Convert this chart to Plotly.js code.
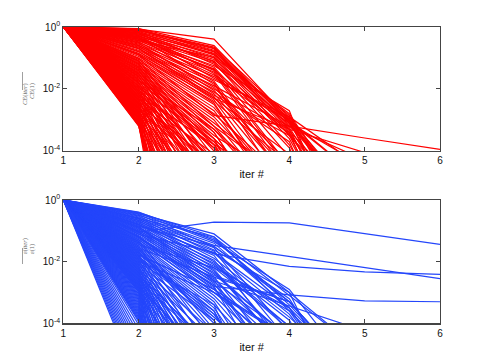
<!DOCTYPE html>
<html>
<head>
<meta charset="utf-8">
<script src="https://cdn.plot.ly/plotly-3.0.1.min.js"></script>
<style>
  html, body { margin: 0; padding: 0; background: #fff; }
  #myPlot { width: 485px; height: 364px; }
</style>
</head>
<body>
<div id="myPlot"></div>
<script>
// iteration numbers on the x axis
const iters = [1, 2, 3, 4, 5, 6];

const ceRuns = [
  // runs that last past iter 3
  [0,-.07,-.39,-3.0,-6], [0,-.05,-.6,-3.1,-7], [0,-.1,-.65,-2.9,-6], [0,-.12,-.7,-3.2,-5.5],
  [0,-.08,-.75,-3.3,-8], [0,-.15,-.8,-3.0,-5], [0,-.2,-.85,-3.1,-6], [0,-.18,-.9,-2.85,-7],
  [0,-.25,-.95,-3.35,-6], [0,-.22,-1.0,-3.5,-6], [0,-.3,-1.05,-3.05,-5], [0,-.28,-1.1,-3.6,-8],
  [0,-.35,-1.15,-3.8,-8], [0,-.13,-1.2,-3.4,-9], [0,-.4,-1.25,-2.7,-9], [0,-.33,-1.3,-3.9,-9],
  [0,-.45,-1.35,-4.2], [0,-.38,-1.4,-4.5], [0,-.5,-1.45,-4.6], [0,-.17,-1.5,-4.8],
  [0,-.42,-1.55,-3.1,-4.5], [0,-.55,-1.6,-3.3,-8], [0,-.27,-1.65,-3.0,-8], [0,-.6,-1.7,-2.9,-4.6],
  [0,-.48,-1.75,-5], [0,-.65,-1.8,-5.5], [0,-.32,-1.85,-5], [0,-.7,-1.9,-3.2,-4.3],
  [0,-.58,-1.95,-4.4], [0,-.75,-2.0,-3.4,-7], [0,-.52,-2.05,-4.7], [0,-.8,-2.1,-3.7,-9],
  [0,-.62,-2.15,-4.9], [0,-.85,-2.2,-3.5,-8], [0,-.68,-2.25,-5.2], [0,-.9,-2.3,-4.1],
  [0,-.78,-2.35,-5.6], [0,-.95,-2.4,-4.4], [0,-.88,-2.45,-6], [0,-.1,-.68,-3.05,-6],
  [0,-.06,-.78,-2.95,-5.8], [0,-.09,-.88,-3.25,-7], [0,-.23,-1.12,-3.15,-6], [0,-.36,-1.38,-3.45,-7],
  [0,-.44,-.98,-2.8,-6.5], [0,-.9,-2.85,-3.2,-3.58,-3.95], [0,-.7,-2.3,-3.3,-4.05],
  // runs that end between iter 2.5 and 4
  [0,-1.0,-2.5,-6], [0,-1.02,-3.2,-5], [0,-1.05,-2.6,-5.5], [0,-1.08,-4.2], [0,-1.1,-2.7,-6],
  [0,-1.12,-3.4,-7], [0,-1.15,-2.8,-5], [0,-1.18,-4.5], [0,-1.2,-2.9,-5.5], [0,-1.22,-3.6,-6],
  [0,-1.25,-3.0,-6], [0,-1.28,-4.8], [0,-1.3,-3.1,-5], [0,-1.32,-3.8,-7], [0,-1.35,-3.2,-6],
  [0,-1.38,-5.0], [0,-1.4,-3.3,-5.5], [0,-1.42,-4.0], [0,-1.45,-3.4,-7], [0,-1.48,-5.3],
  [0,-1.5,-3.5,-5], [0,-1.52,-4.3], [0,-1.55,-3.6,-6], [0,-1.58,-5.6], [0,-1.6,-3.7,-6],
  [0,-1.62,-4.6], [0,-1.65,-3.8,-5], [0,-1.68,-6.0], [0,-1.7,-3.9,-7], [0,-1.72,-4.9],
  [0,-1.75,-3.3,-6], [0,-1.78,-6.4], [0,-1.8,-3.6,-8], [0,-1.82,-5.1], [0,-1.85,-3.9,-6],
  [0,-1.88,-6.8], [0,-1.9,-4.4], [0,-1.92,-5.4], [0,-1.95,-3.7,-7], [0,-1.98,-7.2],
  // runs that end soon after iter 2
  [0,-2.0,-5.5], [0,-2.03,-4.3], [0,-2.05,-7.5], [0,-2.08,-3.9,-6], [0,-2.1,-6], [0,-2.13,-4.6],
  [0,-2.15,-8], [0,-2.18,-5], [0,-2.2,-3.8,-7], [0,-2.23,-6.5], [0,-2.25,-4.7], [0,-2.28,-9],
  [0,-2.3,-5.2], [0,-2.33,-4.1], [0,-2.35,-7], [0,-2.38,-4.9], [0,-2.4,-10], [0,-2.43,-6],
  [0,-2.45,-5.4], [0,-2.48,-8], [0,-2.5,-4.4], [0,-2.53,-11], [0,-2.55,-5.5], [0,-2.58,-7],
  [0,-2.6,-6], [0,-2.63,-12], [0,-2.65,-4.8], [0,-2.68,-8], [0,-2.7,-6.5], [0,-2.73,-13],
  [0,-2.75,-5.8], [0,-2.78,-9], [0,-2.8,-7], [0,-2.83,-14], [0,-2.85,-6.5], [0,-2.88,-10],
  [0,-2.9,-8], [0,-2.93,-15], [0,-2.95,-7], [0,-2.98,-12], [0,-3.0,-9], [0,-3.03,-16],
  [0,-3.05,-8], [0,-3.08,-13], [0,-3.1,-11], [0,-3.13,-17], [0,-3.15,-10], [0,-3.18,-14],
  [0,-3.2,-12]
];

// eps(iter)/eps(1), same reading
const epsRuns = [
  // long runs
  [0,-1.04,-.72,-.74,-1.09,-1.44], [0,-.6,-1.47,-1.83,-2.19,-2.55], [0,-.8,-1.75,-2.15,-2.33,-2.41],
  [0,-1.2,-2.8,-3.08,-3.27,-3.3], [0,-.85,-2.63,-3.44,-4.25],
  // runs that last past iter 3
  [0,-.39,-1.3,-3.3,-6], [0,-.41,-1.19,-3.6,-7], [0,-.43,-1.35,-2.9,-6], [0,-.45,-1.1,-3.0,-5],
  [0,-.47,-1.52,-3.2,-7], [0,-.5,-1.25,-3.4,-6], [0,-.52,-1.62,-3.0,-8], [0,-.55,-1.4,-3.5,-6],
  [0,-.58,-1.73,-3.7,-7], [0,-.6,-1.2,-3.1,-5], [0,-.62,-1.89,-3.8,-6], [0,-.65,-1.55,-4.3],
  [0,-.67,-2.0,-3.9,-8], [0,-.7,-1.65,-4.6], [0,-.72,-2.1,-4.2], [0,-.75,-1.8,-5],
  [0,-.78,-2.2,-3.5,-7], [0,-.8,-1.95,-4.8], [0,-.82,-2.3,-5], [0,-.85,-1.5,-3.3,-6],
  [0,-.88,-2.4,-4.5], [0,-.9,-2.05,-4.1], [0,-.92,-2.5,-5.5], [0,-.95,-2.15,-3.6,-6],
  [0,-.97,-2.6,-6], [0,-1.0,-2.25,-5], [0,-1.02,-2.7,-6], [0,-1.05,-2.35,-4.5],
  [0,-1.08,-2.8,-7], [0,-1.1,-2.45,-3.3,-6], [0,-1.12,-1.7,-3.5,-7], [0,-1.15,-2.55,-4.8],
  [0,-1.18,-2.9,-5.2], [0,-1.2,-2.65,-4.4], [0,-1.22,-3.0,-4.5],
  // runs that end between iter 2.5 and 4
  [0,-1.25,-2.75,-5], [0,-1.28,-3.1,-5.5], [0,-1.3,-2.85,-6], [0,-1.33,-4.2], [0,-1.35,-3.0,-5],
  [0,-1.38,-3.2,-6], [0,-1.4,-4.6], [0,-1.43,-3.3,-7], [0,-1.45,-2.2,-4.1], [0,-1.48,-3.4,-6],
  [0,-1.5,-5.0], [0,-1.53,-3.5,-7], [0,-1.55,-2.5,-3.3,-6], [0,-1.58,-3.6,-8], [0,-1.6,-4.3],
  [0,-1.63,-3.7,-7], [0,-1.65,-5.4], [0,-1.68,-3.8,-6], [0,-1.7,-4.0], [0,-1.73,-3.9,-8],
  [0,-1.75,-5.8], [0,-1.78,-2.9,-4.5], [0,-1.8,-4.5], [0,-1.83,-6.2], [0,-1.85,-3.6,-8],
  [0,-1.88,-4.8], [0,-1.9,-3.7,-7], [0,-1.93,-6.6], [0,-1.95,-3.8,-6], [0,-1.98,-5.1],
  [0,-2.0,-3.0,-4.4], [0,-2.03,-7], [0,-2.05,-3.4,-9], [0,-2.08,-5.4], [0,-2.1,-3.9,-8],
  [0,-2.13,-7.5], [0,-2.15,-4.3], [0,-2.18,-5.7], [0,-2.2,-8], [0,-2.23,-4.6], [0,-2.25,-6],
  [0,-2.28,-8.5],
  // runs that end soon after iter 2
  [0,-2.3,-5], [0,-2.33,-9], [0,-2.35,-6.3], [0,-2.38,-5.5], [0,-2.4,-9.5], [0,-2.43,-6.6],
  [0,-2.45,-4.8], [0,-2.48,-10], [0,-2.5,-5.8], [0,-2.53,-7], [0,-2.55,-11], [0,-2.58,-6.2],
  [0,-2.6,-4.9], [0,-2.63,-12], [0,-2.65,-7.4], [0,-2.68,-5.6], [0,-2.7,-13], [0,-2.73,-8],
  [0,-2.75,-6], [0,-2.78,-14], [0,-2.8,-8.5], [0,-2.83,-5.3], [0,-2.85,-15], [0,-2.88,-9],
  [0,-2.9,-6.2], [0,-2.93,-16], [0,-2.95,-9.5], [0,-2.98,-7], [0,-3.0,-18], [0,-3.05,-10],
  [0,-3.1,-6.5], [0,-3.15,-20], [0,-3.2,-11], [0,-3.25,-8], [0,-3.3,-22], [0,-3.35,-12],
  [0,-3.4,-9], [0,-3.45,-24], [0,-3.5,-13], [0,-3.55,-10], [0,-3.6,-26], [0,-3.65,-14],
  [0,-3.7,-11], [0,-3.75,-28], [0,-3.8,-15], [0,-3.85,-12], [0,-3.9,-30], [0,-3.95,-16],
  // runs that drop out before iter 2
  [0,-6.0], [0,-5.85], [0,-5.7], [0,-5.55], [0,-5.4], [0,-5.25], [0,-5.1], [0,-4.95],
  [0,-4.8], [0,-4.65], [0,-4.5], [0,-4.35], [0,-4.2], [0,-4.05]
];

// y ticks
const yTickVals = [1, 0.01, 0.0001];
const yTickText = ["10<sup>0</sup>", "10<sup>-2</sup>", "10<sup>-4</sup>"];

function makeTraces(runs, color, xa, ya){
    const traces = [];
    for (const run of runs) {
        traces.push({
            x: iters.slice(0, run.length),
            y: run.map(d => Math.pow(10, d)),
            xaxis: xa,
            yaxis: ya,
            mode: "lines",
            line: {color: color, width: 1.2},
            hoverinfo: "skip"
        });
    }
    return traces;
}

function grafica(){
    const data = makeTraces(ceRuns, "#ff0000", "x", "y")
        .concat(makeTraces(epsRuns, "#2446fb", "x2", "y2"));

    const font = {family: "Liberation Sans, Arial, sans-serif", size: 10, color: "#111"};
    const xaxisBase = {
        range: [1, 6],
        tickvals: iters,
        ticks: "inside",
        ticklen: 4,
        tickcolor: "#444",
        showline: true,
        linecolor: "#444",
        linewidth: 1.2,
        mirror: "ticks",
        showgrid: false,
        zeroline: false,
        tickfont: font,
        title: {text: "iter #", font: {family: font.family, size: 11, color: "#111"}, standoff: 5}
    };
    const yaxisBase = {
        type: "log",
        range: [-4, 0],
        tickvals: yTickVals,
        ticktext: yTickText,
        ticks: "inside",
        ticklen: 4,
        tickcolor: "#444",
        showline: true,
        linecolor: "#444",
        linewidth: 1.2,
        mirror: "ticks",
        showgrid: false,
        zeroline: false,
        tickfont: font
    };

    const labFont = {family: "Liberation Serif, serif", size: 6.5, color: "#666"};
    const layout = {
        width: 485,
        height: 364,
        margin: {l: 0, r: 0, t: 0, b: 0},
        paper_bgcolor: "#fff",
        plot_bgcolor: "#fff",
        showlegend: false,
        hovermode: false,
        xaxis: Object.assign({}, xaxisBase, {domain: [0.1306, 0.9072], anchor: "y"}),
        yaxis: Object.assign({}, yaxisBase, {domain: [0.5852, 0.9258], anchor: "x"}),
        xaxis2: Object.assign({}, xaxisBase, {domain: [0.1306, 0.9072], anchor: "y2"}),
        yaxis2: Object.assign({}, yaxisBase, {domain: [0.1118, 0.4505], anchor: "x2"}),
        annotations: [
            {xref: "paper", yref: "paper", x: 19 / 485, y: 1 - 81 / 364, text: "<i>CE</i>(<i>iter</i>)",
             showarrow: false, textangle: -90, font: labFont},
            {xref: "paper", yref: "paper", x: 26 / 485, y: 1 - 81 / 364, text: "<i>CE</i>(1)",
             showarrow: false, textangle: -90, font: labFont},
            {xref: "paper", yref: "paper", x: 19 / 485, y: 1 - 256 / 364, text: "<i>ε</i>(<i>iter</i>)",
             showarrow: false, textangle: -90, font: labFont},
            {xref: "paper", yref: "paper", x: 26 / 485, y: 1 - 256 / 364, text: "<i>ε</i>(1)",
             showarrow: false, textangle: -90, font: labFont}
        ],
        shapes: [
            {type: "line", xref: "paper", yref: "paper", x0: 22.5 / 485, x1: 22.5 / 485,
             y0: 1 - 72 / 364, y1: 1 - 90 / 364, line: {color: "#888", width: 0.8}},
            {type: "line", xref: "paper", yref: "paper", x0: 22.5 / 485, x1: 22.5 / 485,
             y0: 1 - 248 / 364, y1: 1 - 264 / 364, line: {color: "#888", width: 0.8}}
        ]
    };
    Plotly.newPlot("myPlot", data, layout, {staticPlot: true, displayModeBar: false});
}

grafica();
</script>
</body>
</html>
